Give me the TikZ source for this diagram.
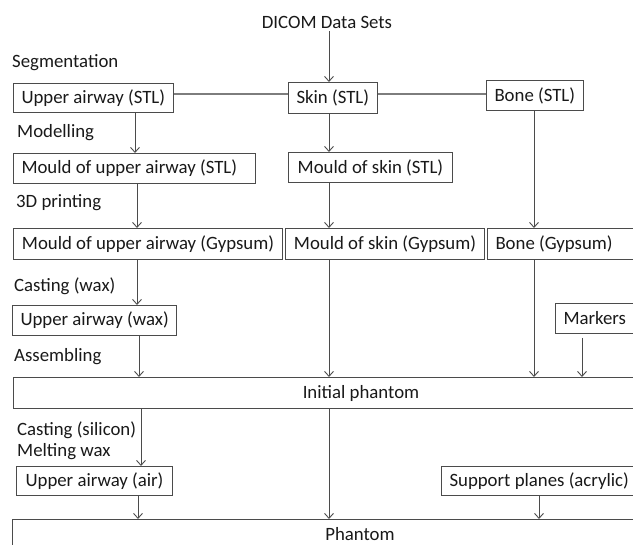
\documentclass[tikz,border=0pt]{standalone}
\usepackage{fontspec}
\setmainfont{Carlito}
\usetikzlibrary{arrows.meta}
\definecolor{boxgray}{RGB}{75,75,75}
\definecolor{linkgray}{RGB}{125,125,125}
\definecolor{inkgray}{RGB}{25,25,25}
\tikzset{
  box/.style={
    draw=boxgray,
    line width=1pt,
    anchor=north west,
    minimum width=#1,
    minimum height=30pt,
    inner xsep=8pt,
    inner ysep=0pt,
    text=inkgray
  },
  leftbox/.style={box=0pt, text width=#1, align=flush left},
  steplbl/.style={anchor=west, inner sep=0pt, text=inkgray},
  arr/.style={-{Straight Barb[length=5pt,width=9pt]}, line width=0.9pt, draw=boxgray},
  link/.style={line width=1.2pt, draw=linkgray}
}

\begin{document}
\begin{tikzpicture}[x=1pt, y=-1pt, font=\fontsize{18.8pt}{22pt}\selectfont]
  \useasboundingbox (0,0) rectangle (633,545);
  % columns of the arrows
  \coordinate (colA) at (137,0);
  \coordinate (colB) at (329,0);
  \coordinate (colC) at (534,0);
  \coordinate (colD) at (582,0);
  \coordinate (colE) at (539,0);

  \node[text=inkgray, inner sep=3pt] (dicom) at (327,22) {DICOM Data Sets};

  % step labels
  \node[steplbl] (seg) at (12,63) {Segmentation};
  \node[steplbl] (model) at (17,133) {Modelling};
  \node[steplbl] (print) at (16,203) {3D printing};
  \node[steplbl] (castwax) at (14,286) {Casting (wax)};
  \node[steplbl] (assemble) at (14,357) {Assembling};
  \node[steplbl] (castsil) at (17,430) {Casting (silicon)};
  \node[steplbl] (melt) at (17,452) {Melting wax};

  % boxes
  \node[box=154pt, minimum height=29pt] (uaSTL) at (13,83) {Upper airway (STL)};
  \node[box=85pt, minimum height=31pt] (skinSTL) at (288,82) {Skin (STL)};
  \node[box=94pt] (boneSTL) at (486,80) {Bone (STL)};
  \node[leftbox=226pt] (mouldUaSTL) at (13,153) {Mould of upper airway (STL)};
  \node[box=164pt] (mouldSkinSTL) at (288,152) {Mould of skin (STL)};
  \node[box=269pt, minimum height=31pt] (mouldUaGyp) at (13,228) {Mould of upper airway (Gypsum)};
  \node[box=199pt, minimum height=31pt] (mouldSkinGyp) at (285,228) {Mould of skin (Gypsum)};
  \node[leftbox=200pt, minimum height=31pt] (boneGyp) at (487,228) {Bone (Gypsum)};
  \node[box=164pt] (uaWax) at (12,305) {Upper airway (wax)};
  \node[leftbox=100pt] (markers) at (555,303) {Markers};
  \node[box=695pt, minimum height=31pt] (initial) at (13,377) {Initial phantom};
  \node[box=156pt, minimum height=29pt] (uaAir) at (16,466) {Upper airway (air)};
  \node[box=191pt, minimum height=29pt] (support) at (441,466) {Support planes (acrylic)};
  \node[box=695pt] (phantom) at (12,519) {Phantom};

  % connectors
  \draw[arr] (dicom.south -| colB) -- (skinSTL.north -| colB);
  \draw[link] ([yshift=4pt]uaSTL.east) -- ([yshift=4pt]uaSTL.east -| skinSTL.west);
  \draw[link] ([yshift=4pt]skinSTL.east) -- ([yshift=4pt]skinSTL.east -| boneSTL.west);
  \draw[arr] ([xshift=-2pt]uaSTL.south -| colA) -- ([xshift=-2pt]mouldUaSTL.north -| colA);
  \draw[arr] (skinSTL.south -| colB) -- (mouldSkinSTL.north -| colB);
  \draw[arr] (boneSTL.south -| colC) -- (boneGyp.north -| colC);
  \draw[arr] (mouldUaSTL.south -| colA) -- (mouldUaGyp.north -| colA);
  \draw[arr] (mouldSkinSTL.south -| colB) -- (mouldSkinGyp.north -| colB);
  \draw[arr] (mouldUaGyp.south -| colA) -- (uaWax.north -| colA);
  \draw[arr] ([xshift=2pt]uaWax.south -| colA) -- ([xshift=2pt]initial.north -| colA);
  \draw[arr] (mouldSkinGyp.south -| colB) -- (initial.north -| colB);
  \draw[arr] (boneGyp.south -| colC) -- (initial.north -| colC);
  \draw[arr] ([yshift=-4pt]markers.south -| colD) -- (initial.north -| colD);
  \draw[arr] ([xshift=4pt]initial.south -| colA) -- ([xshift=4pt]uaAir.north -| colA);
  \draw[arr] (initial.south -| colB) -- (phantom.north -| colB);
  \draw[arr] ([xshift=1pt]uaAir.south -| colA) -- ([xshift=1pt]phantom.north -| colA);
  \draw[arr] (support.south -| colE) -- (phantom.north -| colE);
\end{tikzpicture}
\end{document}
